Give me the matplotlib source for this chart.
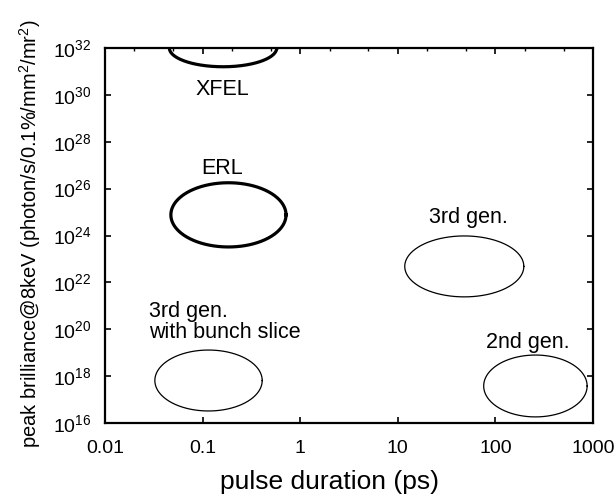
import numpy as np
import matplotlib
matplotlib.use("Agg")
import matplotlib.pyplot as plt
from matplotlib.ticker import FixedLocator, FixedFormatter, NullFormatter

# ---- data ----
x_ticks = [0.01, 0.1, 1, 10, 100, 1000]
x_tick_labels = ["0.01", "0.1", "1", "10", "100", "1000"]
y_exponents = [16, 18, 20, 22, 24, 26, 28, 30, 32]

sources = ["XFEL", "ERL", "3rd gen. with bunch slice", "3rd gen.", "2nd gen."]
pulse_center = [0.162, 0.184, 0.115, 48.0, 257.0]          # ps
brill_center = [1.0e32, 7.6e24, 6.5e17, 4.8e22, 3.8e17]     # peak brilliance
pulse_halfspan_dec = [0.55, 0.59, 0.55, 0.61, 0.53]         # decades
brill_halfspan_dec = [0.80, 1.37, 1.30, 1.30, 1.32]         # decades
thick = [True, True, False, False, False]

plt.rcParams["font.family"] = ["Liberation Sans", "DejaVu Sans"]
plt.rcParams["mathtext.fontset"] = "custom"
plt.rcParams["mathtext.rm"] = "Liberation Sans"
plt.rcParams["mathtext.it"] = "Liberation Sans:italic"
plt.rcParams["mathtext.bf"] = "Liberation Sans:bold"

fig = plt.figure(figsize=(6.15, 4.95), dpi=100)
ax = fig.add_axes([105/615, 1-423/495, 488/615, 375/495])
ax.set_xscale("log")
ax.set_yscale("log")
ax.set_xlim(0.01, 1000)
ax.set_ylim(1e16, 1e32)

t = np.linspace(0, 2*np.pi, 400)
for xc, yc, hx, hy, th in zip(pulse_center, brill_center, pulse_halfspan_dec,
                              brill_halfspan_dec, thick):
    lx = np.log10(xc) + hx*np.cos(t)
    ly = np.log10(yc) + hy*np.sin(t)
    ax.plot(10**lx, 10**ly, color="black", lw=2.3 if th else 0.9)

fs = 15.5
ax.text(0.161, 10**30.25, "XFEL", ha="center", va="center", fontsize=fs)
ax.text(0.158, 10**26.88, "ERL", ha="center", va="center", fontsize=fs)
ax.text(0.028, 10**20.33, "3rd gen.\nwith bunch slice", ha="left", va="center",
        fontsize=fs, linespacing=1.0)
ax.text(53, 10**24.75, "3rd gen.", ha="center", va="center", fontsize=fs)
ax.text(214, 10**19.42, "2nd gen.", ha="center", va="center", fontsize=fs)

ax.xaxis.set_major_locator(FixedLocator(x_ticks))
ax.xaxis.set_major_formatter(FixedFormatter(x_tick_labels))
minor = [m*d for d in [0.01, 0.1, 1, 10, 100] for m in (2, 5)]
ax.xaxis.set_minor_locator(FixedLocator(minor))
ax.xaxis.set_minor_formatter(NullFormatter())
ax.yaxis.set_major_locator(FixedLocator([10.0**e for e in y_exponents]))
ax.yaxis.set_major_formatter(FixedFormatter([r"$10^{%d}$" % e for e in y_exponents]))
ax.yaxis.set_minor_locator(FixedLocator([]))

ax.tick_params(which="major", direction="in", length=4, width=1.2,
               top=True, right=True, labelsize=14)
ax.tick_params(axis="x", which="major", pad=12)
ax.tick_params(axis="y", which="major", pad=10)
ax.tick_params(axis="x", which="minor", direction="in", length=2.5, width=1.0,
               top=True, bottom=False)
for s in ax.spines.values():
    s.set_linewidth(1.6)

ax.set_xlabel("pulse duration (ps)", fontsize=19)
ax.xaxis.set_label_coords((329-105)/488, -(470-423)/375)
ax.set_ylabel(r"peak brilliance@8keV (photon/s/0.1%/mm$^2$/mr$^2$)", fontsize=14.5)
ax.yaxis.set_label_coords((43-105)/488, (423-234)/375)

fig.savefig("out.png", dpi=100)
